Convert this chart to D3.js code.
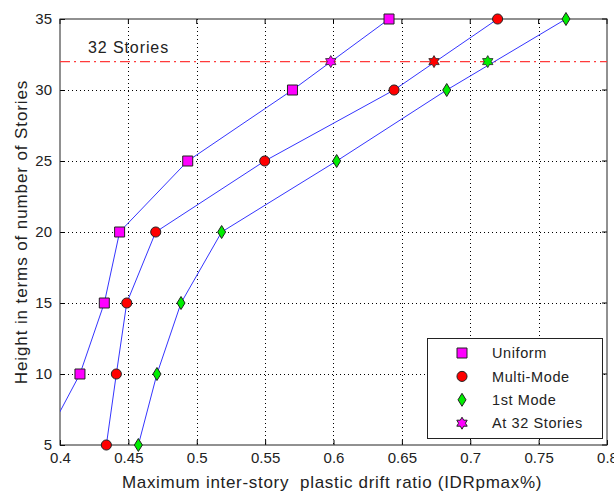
<!DOCTYPE html>
<html>
<head>
<meta charset="utf-8">
<script src="https://cdn.jsdelivr.net/npm/d3@7"></script>
<style>
  html, body { margin: 0; padding: 0; background: #fff; }
  svg { display: block; }
  text { font-family: "Liberation Sans", Arial, sans-serif; fill: #222; }
</style>
</head>
<body>
<svg id="chart" width="614" height="492"></svg>
<script>
// Building height (stories) against maximum inter-story plastic drift ratio
const stories       = [5, 10, 15, 20, 25, 30, 35];
const uniform       = [0.387, 0.4146, 0.4324, 0.4436, 0.4934, 0.570, 0.6406];
const multiMode     = [0.4339, 0.4412, 0.4488, 0.470, 0.5497, 0.6443, 0.720];
const firstMode     = [0.4573, 0.4709, 0.4885, 0.5182, 0.6023, 0.6828, 0.770];
const refStory      = 32;
const at32Values    = [0.598, 0.6735, 0.7128];   // Uniform, Multi-Mode, 1st Mode
const xTicks        = [0.4, 0.45, 0.5, 0.55, 0.6, 0.65, 0.7, 0.75, 0.8];
const xTickLabels   = ["0.4", "0.45", "0.5", "0.55", "0.6", "0.65", "0.7", "0.75", "0.8"];
const yTicks        = [5, 10, 15, 20, 25, 30, 35];
const legendLabels  = ["Uniform", "Multi-Mode", "1st Mode", "At 32 Stories"];

const svg = d3.select("#chart");
const m = { left: 60, right: 7, top: 19, bottom: 47 };
const W = 614, H = 492;

const x = d3.scaleLinear().domain([0.4, 0.8]).range([m.left, W - m.right]);
const y = d3.scaleLinear().domain([5, 35]).range([H - m.bottom, m.top]);

svg.append("defs").append("clipPath").attr("id", "plotClip")
  .append("rect")
  .attr("x", x(0.4)).attr("y", y(35))
  .attr("width", x(0.8) - x(0.4)).attr("height", y(5) - y(35));

// dotted grid
const grid = svg.append("g");
grid.selectAll(".gx").data(xTicks.slice(1, -1)).join("line")
  .attr("x1", d => Math.round(x(d)) + 0.5).attr("x2", d => Math.round(x(d)) + 0.5)
  .attr("y1", y(35)).attr("y2", y(5))
  .attr("stroke", "#000").attr("stroke-width", 1).attr("stroke-dasharray", "1,3");
grid.selectAll(".gy").data(yTicks.slice(1, -1)).join("line")
  .attr("y1", d => Math.round(y(d)) + 0.5).attr("y2", d => Math.round(y(d)) + 0.5)
  .attr("x1", x(0.4)).attr("x2", x(0.8))
  .attr("stroke", "#000").attr("stroke-width", 1).attr("stroke-dasharray", "1,3");

// axes (ticks point inward)
const xAxis = d3.axisBottom(x).tickValues(xTicks)
  .tickFormat((d, i) => xTickLabels[i]).tickSizeInner(-5).tickSizeOuter(0).tickPadding(10);
const yAxis = d3.axisLeft(y).tickValues(yTicks)
  .tickFormat(d3.format("d")).tickSizeInner(-5).tickSizeOuter(0).tickPadding(8);

const gx = svg.append("g").attr("transform", `translate(0,${y(5)})`).call(xAxis);
const gy = svg.append("g").attr("transform", `translate(${x(0.4)},0)`).call(yAxis);
[gx, gy].forEach(g => {
  g.select(".domain").remove();
  g.selectAll("line").attr("stroke", "#000");
  g.selectAll("text").attr("font-size", 15).attr("fill", "#222")
    .style("font-family", "'Liberation Sans', Arial, sans-serif");
});
gx.selectAll("text").attr("dy", "0.55em");

// top/right ticks to mirror the box
svg.append("g").selectAll("line").data(xTicks).join("line")
  .attr("x1", d => x(d)).attr("x2", d => x(d)).attr("y1", y(35)).attr("y2", y(35) + 5)
  .attr("stroke", "#000");
svg.append("g").selectAll("line").data(yTicks).join("line")
  .attr("y1", d => y(d)).attr("y2", d => y(d)).attr("x1", x(0.8)).attr("x2", x(0.8) - 5)
  .attr("stroke", "#000");

// plot box
svg.append("rect")
  .attr("x", x(0.4)).attr("y", y(35))
  .attr("width", x(0.8) - x(0.4)).attr("height", y(5) - y(35))
  .attr("fill", "none").attr("stroke", "#222").attr("stroke-width", 1);

// 32-story reference line
svg.append("line")
  .attr("x1", x(0.4)).attr("x2", x(0.8))
  .attr("y1", y(refStory)).attr("y2", y(refStory))
  .attr("stroke", "#ff3b3b").attr("stroke-width", 1.2)
  .attr("stroke-dasharray", "10,4,2,4");
svg.append("text")
  .attr("x", x(0.4) + 28).attr("y", y(refStory) - 9)
  .attr("font-size", 16).style("letter-spacing", "0.9px")
  .text("32 Stories");

// marker shapes
const squareSym  = d3.symbol().type(d3.symbolSquare).size(100);
const circleSym  = d3.symbol().type(d3.symbolCircle).size(80);
function diamondPath(w, h) {
  return `M0,${-h / 2}L${w / 2},0L0,${h / 2}L${-w / 2},0Z`;
}
function hexagramPath(R) {
  const r = R / Math.sqrt(3);
  const pts = [];
  for (let k = 0; k < 12; k++) {
    const a = -Math.PI / 2 + k * Math.PI / 6;
    const rr = k % 2 === 0 ? R : r;
    pts.push([rr * Math.cos(a), rr * Math.sin(a)]);
  }
  return "M" + pts.map(p => p.join(",")).join("L") + "Z";
}

const series = [
  { name: "Uniform",    values: uniform,   color: "#ff00ff", path: squareSym() },
  { name: "Multi-Mode", values: multiMode, color: "#ff0000", path: circleSym() },
  { name: "1st Mode",   values: firstMode, color: "#00ee00", path: diamondPath(8, 13) }
];

const plot = svg.append("g").attr("clip-path", "url(#plotClip)");
const line = d3.line().x(d => x(d.v)).y(d => y(d.s));

series.forEach((s, i) => {
  const pts = stories.map((st, j) => ({ s: st, v: s.values[j] }));
  // markers
  svg.append("g").selectAll("path").data(pts.filter(p => p.v >= 0.4)).join("path")
    .attr("transform", p => `translate(${x(p.v)},${y(p.s)})`)
    .attr("d", s.path)
    .attr("fill", s.color).attr("stroke", "#222").attr("stroke-width", 1);
  // star at 32 stories
  svg.append("path")
    .attr("transform", `translate(${x(at32Values[i])},${y(refStory)})`)
    .attr("d", hexagramPath(6))
    .attr("fill", s.color).attr("stroke", "#222").attr("stroke-width", 0.8);
  // connecting line
  plot.append("path").datum(pts)
    .attr("d", line)
    .attr("fill", "none").attr("stroke", "#3535ff").attr("stroke-width", 1);
});

// axis titles
svg.append("text")
  .attr("x", 332).attr("y", 488)
  .attr("text-anchor", "middle").attr("font-size", 17)
  .style("white-space", "pre").style("letter-spacing", "0.7px")
  .text("Maximum inter-story  plastic drift ratio (IDRpmax%)");
svg.append("text")
  .attr("transform", `translate(27,${(y(5) + y(35)) / 2}) rotate(-90)`)
  .attr("text-anchor", "middle").attr("font-size", 17)
  .style("letter-spacing", "0.9px")
  .text("Height in terms of number of Stories");

// legend
const lg = svg.append("g");
lg.append("rect")
  .attr("x", 427.5).attr("y", 338.5).attr("width", 175).attr("height", 100)
  .attr("fill", "#fff").attr("stroke", "#222").attr("stroke-width", 1);
const legendShapes = [
  { path: squareSym(), color: "#ff00ff" },
  { path: circleSym(), color: "#ff0000" },
  { path: diamondPath(8, 13), color: "#00ee00" },
  { path: hexagramPath(6), color: "#ff00ff" }
];
legendLabels.forEach((lab, i) => {
  const cy = 353 + i * 23.4;
  lg.append("path")
    .attr("transform", `translate(462,${cy})`)
    .attr("d", legendShapes[i].path)
    .attr("fill", legendShapes[i].color).attr("stroke", "#222").attr("stroke-width", 1);
  lg.append("text")
    .attr("x", 492).attr("y", cy).attr("dy", "0.36em")
    .attr("font-size", 14.5).style("letter-spacing", "0.6px")
    .text(lab);
});
</script>
</body>
</html>
